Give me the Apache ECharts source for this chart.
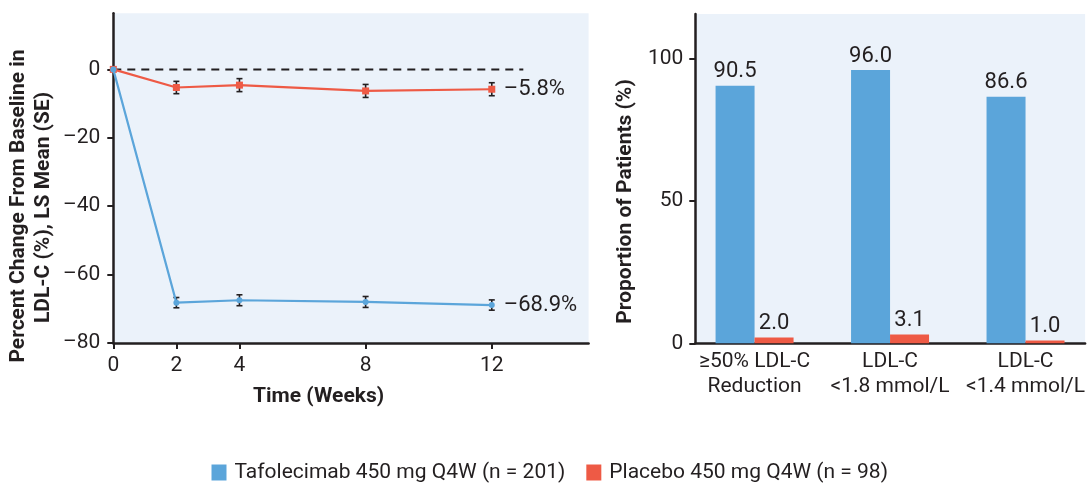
<!DOCTYPE html>
<html><head><meta charset="utf-8">
<script src="https://cdn.jsdelivr.net/npm/echarts@6/dist/echarts.min.js"></script>
<style>html,body{margin:0;padding:0;background:#fff}#c{width:1088px;height:484px}</style>
</head><body><div id="c"></div>
<script>
// ---- data ----
const weeks = [0, 2, 4, 8, 12];
const tafoMean = [0, -68.2, -67.5, -68.0, -68.9];
const tafoSE = [0, 1.5, 1.6, 1.6, 1.5];
const placeboMean = [0, -5.3, -4.6, -6.3, -5.8];
const placeboSE = [0, 1.8, 1.9, 1.9, 1.9];
const refLineX = [0, 13];
const yTicksLeft = [-80, -60, -40, -20, 0];
const categories = ['≥50% LDL-C\nReduction', 'LDL-C\n<1.8 mmol/L', 'LDL-C\n<1.4 mmol/L'];
const catPos = [0, 1, 2];
const tafoPct = [90.5, 96.0, 86.6];
const placeboPct = [2.0, 3.1, 1.0];
const yTicksRight = [0, 50, 100];
const seriesNames = ['Tafolecimab 450 mg Q4W (n = 201)', 'Placebo 450 mg Q4W (n = 98)'];

const BLUE = '#5BA5DA', RED = '#EE5A45', INK = '#231F20', BG = '#EBF2FA';
const FONT = 'Roboto, "Noto Sans", sans-serif';
const dash = v => v < 0 ? '\u2013' + Math.abs(v) : String(v);

function errData(mean, se) {
  return weeks.map((w, i) => [w, mean[i] - se[i], mean[i] + se[i]]).filter((d, i) => se[i] > 0);
}
function errRender(params, api) {
  const x = api.value(0), lo = api.coord([x, api.value(1)]), hi = api.coord([x, api.value(2)]);
  const cap = 3, st = {stroke: INK, lineWidth: 1.6};
  return {type: 'group', children: [
    {type: 'line', shape: {x1: lo[0], y1: lo[1], x2: hi[0], y2: hi[1]}, style: st},
    {type: 'line', shape: {x1: lo[0] - cap, y1: lo[1], x2: lo[0] + cap, y2: lo[1]}, style: st},
    {type: 'line', shape: {x1: hi[0] - cap, y1: hi[1], x2: hi[0] + cap, y2: hi[1]}, style: st}
  ]};
}
const axisLine = {show: true, onZero: false, lineStyle: {color: INK, width: 2.5}};
const lbl = {color: INK, fontSize: 21, fontFamily: FONT};

const chart = echarts.init(document.getElementById('c'), null, {renderer: 'canvas'});
chart.setOption({
  animation: false,
  textStyle: {fontFamily: FONT},
  grid: [
    {left: 113.3, top: 13.3, width: 475.3, bottom: 141, show: true, backgroundColor: BG, borderWidth: 0},
    {left: 695.3, top: 14, right: 0, bottom: 140.7, show: true, backgroundColor: BG, borderWidth: 0}
  ],
  xAxis: [
    {gridIndex: 0, type: 'value', min: 0, max: 15.07, axisLine,
     axisTick: {show: true, length: 6, lineStyle: {color: INK, width: 2}, customValues: weeks},
     axisLabel: Object.assign({margin: 12, customValues: weeks}, lbl), splitLine: {show: false}},
    {gridIndex: 1, type: 'value', min: -0.4374, max: 2.4396, axisLine,
     axisTick: {show: false},
     axisLabel: Object.assign({margin: 6, lineHeight: 25, customValues: catPos,
       formatter: v => categories[Math.round(v)]}, lbl), splitLine: {show: false}}
  ],
  yAxis: [
    {gridIndex: 0, type: 'value', min: -80, max: 16.4, interval: 20, axisLine,
     axisTick: {show: true, length: 6, lineStyle: {color: INK, width: 2}, customValues: yTicksLeft},
     axisLabel: Object.assign({margin: 13, customValues: yTicksLeft, formatter: dash}, lbl),
     splitLine: {show: false}},
    {gridIndex: 1, type: 'value', min: 0, max: 115.7, interval: 50, axisLine,
     axisTick: {show: true, length: 6, lineStyle: {color: INK, width: 2}, customValues: yTicksRight},
     axisLabel: Object.assign({margin: 12, customValues: yTicksRight}, lbl),
     splitLine: {show: false}}
  ],
  legend: {
    left: 211.5, top: 462, padding: 0, itemWidth: 15, itemHeight: 16, itemGap: 21,
    icon: 'rect',
    data: seriesNames,
    textStyle: {color: INK, fontSize: 21, fontFamily: FONT, padding: [0, 0, 0, 3]}
  },
  series: [
    {name: seriesNames[0], type: 'bar', xAxisIndex: 1, yAxisIndex: 1, barWidth: 39, barGap: '0%',
     itemStyle: {color: BLUE},
     data: catPos.map((c, i) => [c, tafoPct[i]]),
     label: {show: true, position: 'top', distance: 3, color: INK, fontSize: 22, fontFamily: FONT,
             formatter: p => p.value[1].toFixed(1)}},
    {name: seriesNames[1], type: 'bar', xAxisIndex: 1, yAxisIndex: 1, barWidth: 39, barGap: '0%',
     itemStyle: {color: RED},
     data: catPos.map((c, i) => [c, placeboPct[i]]),
     label: {show: true, position: 'top', distance: 3, color: INK, fontSize: 22, fontFamily: FONT,
             formatter: p => p.value[1].toFixed(1)}},
    {type: 'line', xAxisIndex: 0, yAxisIndex: 0, data: refLineX.map(x => [x, 0]), symbol: 'none',
     lineStyle: {color: INK, width: 2, type: [8, 6]}, silent: true, z: 1},
    {type: 'custom', xAxisIndex: 0, yAxisIndex: 0, renderItem: errRender, data: errData(placeboMean, placeboSE), z: 2},
    {type: 'custom', xAxisIndex: 0, yAxisIndex: 0, renderItem: errRender, data: errData(tafoMean, tafoSE), z: 2},
    {name: seriesNames[1], type: 'line', xAxisIndex: 0, yAxisIndex: 0,
     data: weeks.map((w, i) => [w, placeboMean[i]]),
     symbol: 'rect', symbolSize: 7, showAllSymbol: true,
     lineStyle: {color: RED, width: 2.2}, itemStyle: {color: RED}, z: 3,
     endLabel: {show: true, distance: 12, color: INK, fontSize: 22, fontFamily: FONT,
                formatter: p => dash(p.value[1]) + '%'}},
    {name: seriesNames[0], type: 'line', xAxisIndex: 0, yAxisIndex: 0,
     data: weeks.map((w, i) => [w, tafoMean[i]]),
     symbol: 'circle', symbolSize: 6, showAllSymbol: true,
     lineStyle: {color: BLUE, width: 2.2}, itemStyle: {color: BLUE}, z: 4,
     endLabel: {show: true, distance: 12, color: INK, fontSize: 22, fontFamily: FONT,
                formatter: p => dash(p.value[1]) + '%'}}
  ],
  graphic: [
    {type: 'text', x: 19, y: 206, rotation: Math.PI / 2,
     style: {text: 'Percent Change From Baseline in', fill: INK, font: 'bold 21px ' + FONT, align: 'center', verticalAlign: 'middle'}},
    {type: 'text', x: 44, y: 207.5, rotation: Math.PI / 2,
     style: {text: 'LDL-C (%), LS Mean (SE)', fill: INK, font: 'bold 21px ' + FONT, align: 'center', verticalAlign: 'middle'}},
    {type: 'text', x: 318.6, y: 397,
     style: {text: 'Time (Weeks)', fill: INK, font: 'bold 21px ' + FONT, align: 'center', verticalAlign: 'middle'}},
    {type: 'text', x: 626, y: 201.5, rotation: Math.PI / 2,
     style: {text: 'Proportion of Patients (%)', fill: INK, font: 'bold 21px ' + FONT, align: 'center', verticalAlign: 'middle'}}
  ]
});
</script></body></html>
